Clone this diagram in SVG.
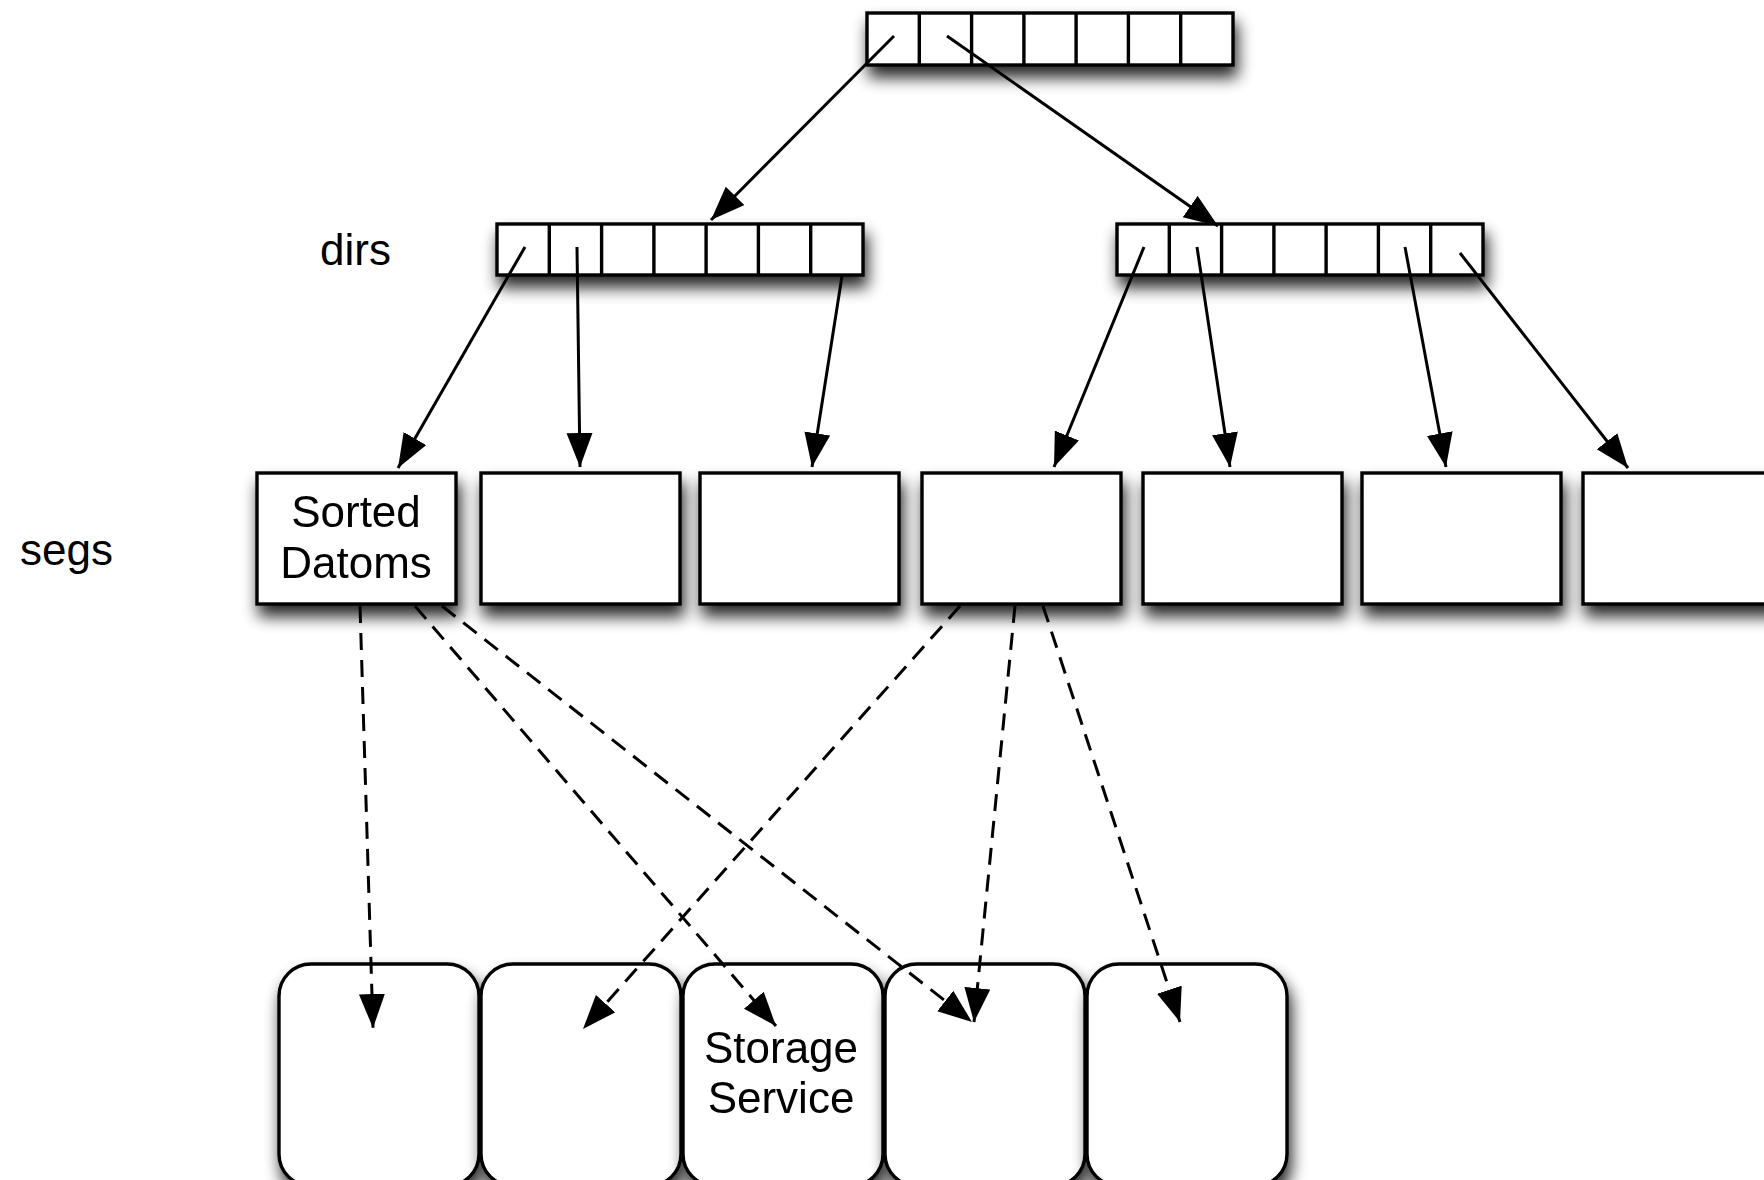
<svg xmlns="http://www.w3.org/2000/svg" width="1764" height="1180" viewBox="0 0 1764 1180">
<style>
.box{fill:#fff;stroke:#000;stroke-width:3.4}
.div{stroke:#000;stroke-width:3.4}
.lbl{font-family:"Liberation Sans",Arial,sans-serif;font-size:44px;fill:#000}
.c{text-anchor:middle}
.ln{fill:none;stroke:#000;stroke-width:3;marker-end:url(#ah)}
.dash{stroke-dasharray:17 10}
</style>
<defs>
<filter id="sh" x="-25%" y="-40%" width="160%" height="200%">
<feGaussianBlur in="SourceAlpha" stdDeviation="8"/>
<feOffset dx="3" dy="11"/>
<feComponentTransfer><feFuncA type="linear" slope="0.85"/></feComponentTransfer>
<feMerge><feMergeNode/><feMergeNode in="SourceGraphic"/></feMerge>
</filter>
<marker id="ah" markerUnits="userSpaceOnUse" markerWidth="36" markerHeight="28" refX="34" refY="13" orient="auto">
<path d="M0,0 L34,13 L0,26 z" fill="#000"/>
</marker>
</defs>
<rect width="1764" height="1180" fill="#fff"/>

<text class="lbl" x="320" y="265">dirs</text>
<text class="lbl" x="20" y="565">segs</text>

<g id="root">
<g filter="url(#sh)"><rect class="box" x="867" y="13" width="366" height="52"/></g>
<path class="div" d="M919.3,13V65M971.6,13V65M1023.9,13V65M1076.1,13V65M1128.4,13V65M1180.7,13V65"/>
</g>
<g id="dir-left">
<g filter="url(#sh)"><rect class="box" x="497" y="224" width="366" height="51"/></g>
<path class="div" d="M549.3,224V275M601.6,224V275M653.9,224V275M706.1,224V275M758.4,224V275M810.7,224V275"/>
</g>
<g id="dir-right">
<g filter="url(#sh)"><rect class="box" x="1117" y="224" width="366" height="51"/></g>
<path class="div" d="M1169.3,224V275M1221.6,224V275M1273.9,224V275M1326.1,224V275M1378.4,224V275M1430.7,224V275"/>
</g>

<g id="seg1" filter="url(#sh)"><rect class="box" x="257" y="473" width="199" height="131"/>
<text class="lbl c" x="356" y="527">Sorted</text><text class="lbl c" x="356" y="578">Datoms</text></g>
<g id="seg2" filter="url(#sh)"><rect class="box" x="481" y="473" width="199" height="131"/></g>
<g id="seg3" filter="url(#sh)"><rect class="box" x="700" y="473" width="199" height="131"/></g>
<g id="seg4" filter="url(#sh)"><rect class="box" x="922" y="473" width="199" height="131"/></g>
<g id="seg5" filter="url(#sh)"><rect class="box" x="1143" y="473" width="199" height="131"/></g>
<g id="seg6" filter="url(#sh)"><rect class="box" x="1362" y="473" width="199" height="131"/></g>
<g id="seg7" filter="url(#sh)"><rect class="box" x="1583" y="473" width="199" height="131"/></g>

<g id="store1" filter="url(#sh)"><rect class="box" x="279" y="964" width="200" height="222" rx="32"/></g>
<g id="store2" filter="url(#sh)"><rect class="box" x="481" y="964" width="200" height="222" rx="32"/></g>
<g id="store3" filter="url(#sh)"><rect class="box" x="683" y="964" width="200" height="222" rx="32"/>
<text class="lbl c" x="781" y="1063">Storage</text><text class="lbl c" x="781" y="1113">Service</text></g>
<g id="store4" filter="url(#sh)"><rect class="box" x="885" y="964" width="200" height="222" rx="32"/></g>
<g id="store5" filter="url(#sh)"><rect class="box" x="1087" y="964" width="200" height="222" rx="32"/></g>

<g id="connectors">
<line class="ln" x1="894" y1="36" x2="711" y2="220"/>
<line class="ln" x1="947" y1="36" x2="1218" y2="226"/>
<line class="ln" x1="525" y1="247" x2="398" y2="468"/>
<line class="ln" x1="577" y1="247" x2="580" y2="467"/>
<line class="ln" x1="842" y1="276" x2="812" y2="467"/>
<line class="ln" x1="1144" y1="247" x2="1054" y2="467"/>
<line class="ln" x1="1197" y1="247" x2="1230" y2="467"/>
<line class="ln" x1="1405" y1="247" x2="1446" y2="467"/>
<line class="ln" x1="1460" y1="253" x2="1628" y2="468"/>
<line class="ln dash" x1="360" y1="606" x2="373" y2="1028"/>
<line class="ln dash" x1="415" y1="606" x2="776" y2="1026"/>
<line class="ln dash" x1="442" y1="606" x2="972" y2="1022"/>
<line class="ln dash" x1="960" y1="606" x2="583" y2="1029"/>
<line class="ln dash" x1="1015" y1="606" x2="974" y2="1022"/>
<line class="ln dash" x1="1043" y1="606" x2="1180" y2="1022"/>
</g>
</svg>
